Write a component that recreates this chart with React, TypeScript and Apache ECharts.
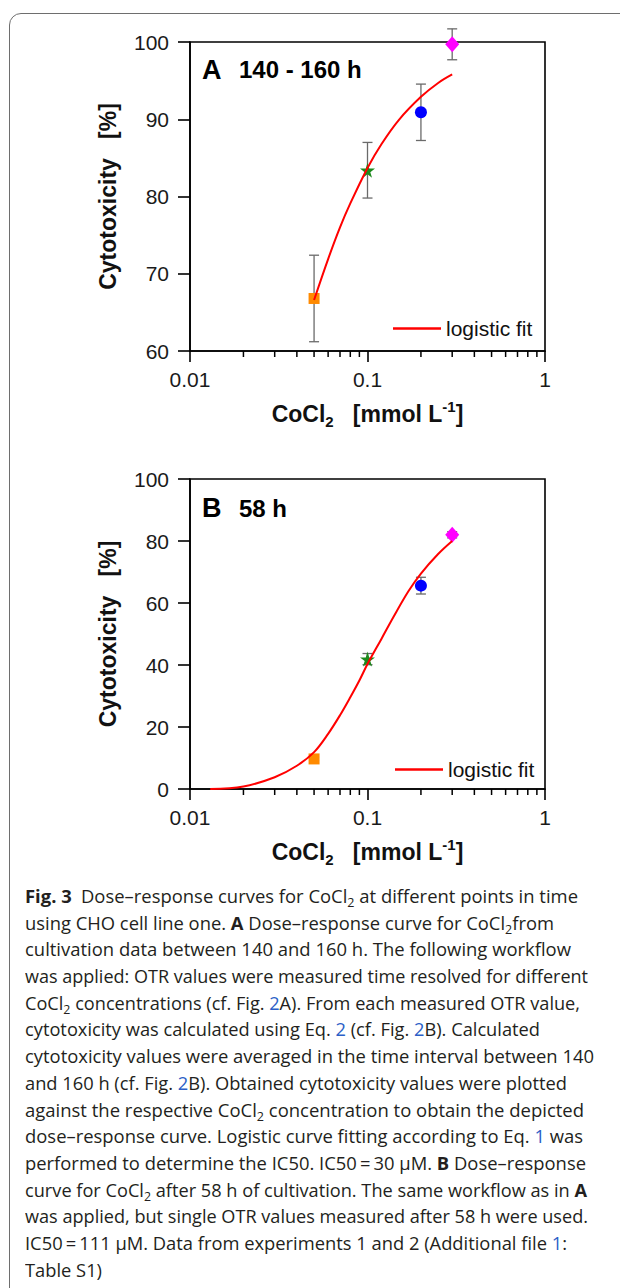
import React, { useEffect, useLayoutEffect, useRef } from 'react';
import * as echarts from 'echarts';

// ---------- data ----------
const concentrations = [0.05, 0.1, 0.2, 0.3];
const cytoA = [66.8, 83.4, 90.9, 99.7];
const errA = [5.6, 3.6, 3.65, 2.0];
const cytoB = [9.7, 41.9, 65.6, 82.0];
const errB = [0.6, 1.8, 2.7, 1.0];

const fitXA = [0.05, 0.06, 0.07, 0.08, 0.1, 0.12, 0.15, 0.2, 0.25, 0.3];
const fitYA = [66.6, 71.9, 76.0, 79.1, 83.7, 86.8, 89.9, 92.9, 94.7, 95.8];

const fitXB = [0.013, 0.02, 0.03, 0.04, 0.05, 0.06, 0.07, 0.08, 0.09, 0.1, 0.12, 0.14, 0.17, 0.2, 0.25, 0.3];
const fitYB = [0, 0.8, 3.8, 7.5, 11.9, 17.8, 23.8, 29.6, 35.0, 40.3, 48.5, 55.5, 63.8, 69.5, 75.8, 80.0];

const minorTickValues = [0.02, 0.03, 0.04, 0.05, 0.06, 0.07, 0.08, 0.09, 0.2, 0.3, 0.4, 0.5, 0.6, 0.7, 0.8, 0.9];
const xRange = [0.01, 1];
const yRangeA = [60, 100];
const yIntervalA = 10;
const yRangeB = [0, 100];
const yIntervalB = 20;

const legendLabel = 'logistic fit';
const yTitle = 'Cytotoxicity\u00a0\u00a0\u00a0[%]';
const panelA = ['A', '140 - 160 h'];
const panelB = ['B', '58 h'];

// ---------- styles ----------
const FONT = '"Liberation Sans", Arial, Helvetica, sans-serif';
const STAR = 'path://M50,0 L61,35 L98,35 L68,57 L79,91 L50,70 L21,91 L32,57 L2,35 L39,35 Z';
const markerSymbols = ['rect', STAR, 'circle', 'diamond'];
const markerColors = ['#ff8a00', '#1c8a1c', '#0000ff', '#ff00ff'];
const markerSizes: any[] = [11, 15, 12, [14, 16]];

const axisLineStyle = { color: '#000', width: 1.6 };

function xAxisDef(gridIndex: number) {
  return {
    type: 'log',
    logBase: 10,
    gridIndex,
    min: xRange[0],
    max: xRange[1],
    axisLine: { show: true, lineStyle: axisLineStyle },
    axisTick: { show: true, length: 11, inside: false, lineStyle: axisLineStyle },
    axisLabel: {
      fontSize: 21,
      color: '#1a1a1a',
      margin: 18,
      fontFamily: FONT,
      formatter: (v: number) => String(Number(v.toPrecision(2))),
    },
    splitLine: { show: false },
    name: '{b|CoCl}{s|2}{b|\u00a0\u00a0\u00a0[mmol L}{p|-1}{b|]}',
    nameLocation: 'middle',
    nameGap: 48,
    nameTextStyle: {
      rich: {
        b: { fontSize: 23, fontWeight: 'bold', fontFamily: FONT, color: '#111', lineHeight: 30 },
        s: { fontSize: 15, fontWeight: 'bold', fontFamily: FONT, color: '#111', lineHeight: 13, verticalAlign: 'bottom' },
        p: { fontSize: 15, fontWeight: 'bold', fontFamily: FONT, color: '#111', lineHeight: 13, verticalAlign: 'top' },
      },
    },
  };
}

function yAxisDef(gridIndex: number, range: number[], interval: number) {
  return {
    type: 'value',
    gridIndex,
    min: range[0],
    max: range[1],
    interval,
    axisLine: { show: true, lineStyle: axisLineStyle },
    axisTick: { show: true, length: 12, inside: false, lineStyle: axisLineStyle },
    axisLabel: { fontSize: 21, color: '#1a1a1a', margin: 21, fontFamily: FONT },
    splitLine: { show: false },
    name: yTitle,
    nameLocation: 'middle',
    nameRotate: 90,
    nameGap: 71,
    nameTextStyle: { fontSize: 23, fontWeight: 'bold', color: '#111', fontFamily: FONT },
  };
}

function errorSeries(idx: number, values: number[], errs: number[]) {
  return {
    type: 'custom',
    xAxisIndex: idx,
    yAxisIndex: idx,
    z: 2,
    clip: false,
    encode: { x: 0, y: 1 },
    data: concentrations.map((c, i) => [c, values[i] - errs[i], values[i] + errs[i]]),
    renderItem: (_p: any, api: any) => {
      const x = api.value(0);
      const lo = api.coord([x, api.value(1)]);
      const hi = api.coord([x, api.value(2)]);
      const w = 5;
      const style = { stroke: '#6a6a6a', lineWidth: 1.3 };
      return {
        type: 'group',
        children: [
          { type: 'line', shape: { x1: lo[0], y1: lo[1], x2: hi[0], y2: hi[1] }, style },
          { type: 'line', shape: { x1: lo[0] - w, y1: lo[1], x2: lo[0] + w, y2: lo[1] }, style },
          { type: 'line', shape: { x1: hi[0] - w, y1: hi[1], x2: hi[0] + w, y2: hi[1] }, style },
        ],
      };
    },
  };
}

function markerSeries(idx: number, values: number[]) {
  return {
    type: 'scatter',
    xAxisIndex: idx,
    yAxisIndex: idx,
    z: 3,
    data: concentrations.map((c, i) => ({
      value: [c, values[i]],
      symbol: markerSymbols[i],
      symbolSize: markerSizes[i],
      itemStyle: { color: markerColors[i], opacity: 1 },
    })),
  };
}

function fitSeries(idx: number, xs: number[], ys: number[]) {
  return {
    name: legendLabel,
    type: 'line',
    xAxisIndex: idx,
    yAxisIndex: idx,
    z: 4,
    color: '#ff0000',
    smooth: 0.35,
    showSymbol: false,
    symbol: 'none',
    itemStyle: { color: '#ff0000' },
    lineStyle: { color: '#ff0000', width: 2 },
    data: xs.map((x, i) => [x, ys[i]]),
  };
}

function minorTickSeries(idx: number, yMin: number) {
  return {
    type: 'custom',
    xAxisIndex: idx,
    yAxisIndex: idx,
    z: 5,
    clip: false,
    silent: true,
    encode: { x: 0, y: 1 },
    data: minorTickValues.map((v) => [v, yMin]),
    renderItem: (_p: any, api: any) => {
      const p = api.coord([api.value(0), api.value(1)]);
      return {
        type: 'line',
        shape: { x1: p[0], y1: p[1], x2: p[0], y2: p[1] + 6 },
        style: { stroke: '#000', lineWidth: 1.5 },
      };
    },
  };
}

function legendDef(left: number, top: number) {
  return {
    data: [{ name: legendLabel, icon: 'rect' }],
    left,
    top,
    padding: 0,
    itemWidth: 48,
    itemHeight: 2.5,
    itemGap: 5,
    selectedMode: false,
    textStyle: { fontSize: 21, color: '#111', fontFamily: FONT },
  };
}

function panelLabel(x: number, y: number, letter: string, rest: string) {
  return [
    { type: 'text', x, y, style: { text: letter, fontSize: 27, fontWeight: 'bold', fontFamily: FONT, fill: '#000', verticalAlign: 'middle' } },
    { type: 'text', x: x + 37, y, style: { text: rest, fontSize: 24, fontWeight: 'bold', fontFamily: FONT, fill: '#000', verticalAlign: 'middle' } },
  ];
}

// ---------- caption ----------
const LINK = '#2c5fc7';
const L = (t: string) => <span style={{ color: LINK }}>{t}</span>;
const S = () => <sub style={{ fontSize: '0.68em', verticalAlign: '-0.3em', lineHeight: 0 }}>2</sub>;
const captionLines = [
  <><b>Fig. 3</b>{'\u2002'}Dose–response curves for CoCl<S /> at different points in time</>,
  <>using CHO cell line one. <b>A</b> Dose–response curve for CoCl<S />from</>,
  <>cultivation data between 140 and 160 h. The following workflow</>,
  <>was applied: OTR values were measured time resolved for different</>,
  <>CoCl<S /> concentrations (cf. Fig. {L('2')}A). From each measured OTR value,</>,
  <>cytotoxicity was calculated using Eq. {L('2')} (cf. Fig. {L('2')}B). Calculated</>,
  <>cytotoxicity values were averaged in the time interval between 140</>,
  <>and 160 h (cf. Fig. {L('2')}B). Obtained cytotoxicity values were plotted</>,
  <>against the respective CoCl<S /> concentration to obtain the depicted</>,
  <>dose–response curve. Logistic curve fitting according to Eq. {L('1')} was</>,
  <>performed to determine the IC50. IC50{'\u2009'}={'\u2009'}30 µM. <b>B</b> Dose–response</>,
  <>curve for CoCl<S /> after 58 h of cultivation. The same workflow as in <b>A</b></>,
  <>was applied, but single OTR values measured after 58 h were used.</>,
  <>IC50{'\u2009'}={'\u2009'}111 µM. Data from experiments 1 and 2 (Additional file {L('1')}:</>,
  <>Table S1)</>,
];
const CAP_LEFT = 25;
const captionRight = [578, 554, 571, 588, 580, 540, 594, 567, 584, 583, 586, 587, 588, 567, 0];

export default function App() {
  const chartRef = useRef<HTMLDivElement>(null);
  const lineRefs = useRef<(HTMLSpanElement | null)[]>([]);

  useEffect(() => {
    if (!chartRef.current) return;
    const chart = echarts.init(chartRef.current, undefined, { renderer: 'svg' });
    chart.setOption({
      animation: false,
      backgroundColor: 'transparent',
      textStyle: { fontFamily: FONT },
      grid: [
        { left: 190, top: 42, width: 355, height: 309, show: true, borderColor: '#000', borderWidth: 1.6, backgroundColor: 'transparent', outerBoundsMode: 'none' },
        { left: 190, top: 479, width: 355, height: 310, show: true, borderColor: '#000', borderWidth: 1.6, backgroundColor: 'transparent', outerBoundsMode: 'none' },
      ],
      xAxis: [xAxisDef(0), xAxisDef(1)],
      yAxis: [yAxisDef(0, yRangeA, yIntervalA), yAxisDef(1, yRangeB, yIntervalB)],
      legend: [legendDef(393, 318), legendDef(395, 759)],
      series: [
        errorSeries(0, cytoA, errA),
        markerSeries(0, cytoA),
        fitSeries(0, fitXA, fitYA),
        minorTickSeries(0, yRangeA[0]),
        errorSeries(1, cytoB, errB),
        markerSeries(1, cytoB),
        fitSeries(1, fitXB, fitYB),
        minorTickSeries(1, yRangeB[0]),
      ],
      graphic: [...panelLabel(202, 69.8, panelA[0], panelA[1]), ...panelLabel(202, 508, panelB[0], panelB[1])],
    });
    return () => chart.dispose();
  }, []);

  useLayoutEffect(() => {
    const fit = () => {
      const els = lineRefs.current;
      const scales: number[] = [];
      els.forEach((el, i) => {
        if (!el) return;
        el.style.transform = 'none';
        const w = el.getBoundingClientRect().width;
        if (captionRight[i] > 0 && w > 0) {
          scales[i] = (captionRight[i] - CAP_LEFT) / w;
        }
      });
      const valid = scales.filter((s) => s > 0);
      const avg = valid.reduce((a, b) => a + b, 0) / (valid.length || 1);
      els.forEach((el, i) => {
        if (!el) return;
        const s = scales[i] > 0 ? scales[i] : avg;
        el.style.transform = `scaleX(${s})`;
      });
    };
    fit();
    if ((document as any).fonts && (document as any).fonts.ready) {
      (document as any).fonts.ready.then(fit);
    }
  }, []);

  return (
    <div style={{ position: 'fixed', left: 0, top: 0, width: 620, height: 1288, overflow: 'hidden', background: '#fff' }}>
      <div
        style={{
          position: 'absolute', left: 9, top: 13, width: 800, height: 2000,
          border: '1.5px solid #6e6e6e', borderRadius: 12, boxSizing: 'border-box',
        }}
      />
      <div ref={chartRef} style={{ position: 'absolute', left: 0, top: 0, width: 620, height: 880 }} />
      <div
        style={{
          position: 'absolute', left: CAP_LEFT, top: 883, width: 600,
          fontFamily: '"Open Sans", "Noto Sans", sans-serif', fontSize: 17.8, lineHeight: '26.7px',
          color: '#231f20',
        }}
      >
        {captionLines.map((line, i) => (
          <div key={i} style={{ height: 26.7, whiteSpace: 'nowrap' }}>
            <span
              ref={(el) => { lineRefs.current[i] = el; }}
              style={{ display: 'inline-block', transformOrigin: 'left center', whiteSpace: 'nowrap' }}
            >
              {line}
            </span>
          </div>
        ))}
      </div>
    </div>
  );
}
